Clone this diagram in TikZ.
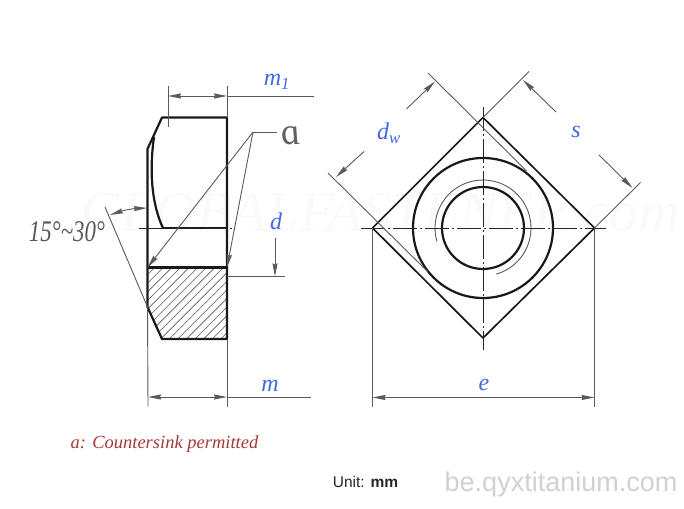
\documentclass[tikz,border=0pt]{standalone}
\usepackage{fontspec}
\setmainfont{Liberation Serif}
\setsansfont{Liberation Sans}
\usepackage{tikz}
\usetikzlibrary{arrows.meta}
\usetikzlibrary{calc}
\definecolor{dimblue}{HTML}{4169E1}
\definecolor{notered}{HTML}{A33A3A}
\definecolor{linegrey}{HTML}{5A5A5A}
\tikzstyle{outline} = [draw=black!90,line width=2.2pt,line join=round]
\tikzstyle{thinedge} = [draw=linegrey,line width=0.9pt]
\tikzstyle{tipedge} = [thinedge,-{Stealth[length=13pt,width=5pt,inset=1pt]}]
\tikzstyle{twotipedge} = [thinedge,{Stealth[length=13pt,width=5pt,inset=1pt]}-{Stealth[length=13pt,width=5pt,inset=1pt]}]
\tikzstyle{centreline} = [draw=black!85,line width=1pt,dash pattern=on 24pt off 3pt on 2pt off 3pt]
\tikzstyle{weight} = [font=\itshape\fontsize{24}{24}\selectfont,text=dimblue,inner sep=0pt]
\begin{document}
\begin{tikzpicture}[x=1pt,y=-1pt]
    \useasboundingbox[fill=white] (0,0) rectangle (684,508);

    % watermark first, everything else sits on it
    \node[font=\itshape\fontsize{58}{58}\selectfont,text=black!2,inner sep=0pt] (mark) at (380,213) {GLOBALFASTENER.com};

    % side view: points of the outline and of the dimension lines
    \foreach \pos/\name in {{(162,117.5)/A1}, {(227,117.5)/A2}, {(147.5,149)/A3}, {(147.5,307)/A4}, {(162,339)/A5}, {(227,339)/A6},
        {(147.5,267.5)/B1}, {(227,267.5)/B2}, {(163,228)/B3}, {(227,228)/B4}, {(154,137)/B5},
        {(139,228)/C1}, {(235,228)/C2},
        {(168,86)/D1}, {(168,127)/D2}, {(227,86)/D3}, {(168,96)/D4}, {(227,96)/D5}, {(314,96)/D6},
        {(148,406.5)/E1}, {(227,406.5)/E2}, {(148,397)/E3}, {(227,397)/E4}, {(311,397)/E5},
        {(227,276.5)/F1}, {(285,276.5)/F2}, {(275,238)/F3}, {(275,276.5)/F4},
        {(277,132)/G1}, {(253,132)/G2},
        {(105,207)/H1}, {(110,215)/H2}, {(147,208)/H3}}
        \node[coordinate] (\name) at \pos {};

    % hatching of the cut part
    \begin{scope}
    \clip (B1) -- (B2) -- (A6) -- (A5) -- (A4) -- cycle;
    \foreach \i in {0,...,21}
        \draw[thinedge,line width=0.6pt] (60+8.6*\i,345) -- (60+8.6*\i+85,260);
    \end{scope}

    % outline of the side view
    \draw[outline] (A3) -- (A1) -- (A2) -- (A6) -- (A5) -- (A4) -- cycle;
    \draw[outline] (B1) -- (B2);
    \draw[outline] (B3) -- (B4);
    \draw[outline] (B5) .. controls (149,172) and (152,205) .. (B3);
    \draw[centreline] (C1) -- (C2);

    % dimension lines of the side view
    \foreach \source/\dest in {D1/D2, D3/A2, D5/D6, A4/E1, A6/E2, E4/E5, F1/F2, G1/G2, H1/A4}
        \draw[thinedge] (\source) -- (\dest);
    \foreach \source/\dest in {D4/D5, E3/E4}
        \draw[twotipedge] (\source) -- (\dest);
    \foreach \source/\dest in {F3/F4, G2/B1, G2/B2}
        \draw[tipedge] (\source) -- (\dest);
    \draw[twotipedge] (H2) to[bend left=8] (H3);

    % top view
    \coordinate (cen) at (483,228);
    \foreach \pos/\name in {{(483,117.5)/P1}, {(594.5,228)/P2}, {(483,338)/P3}, {(372.5,228)/P4},
        {(361,228)/Q1}, {(606,228)/Q2}, {(483,107)/Q3}, {(483,350)/Q4},
        {(428,73)/R1}, {(526.5,171)/R2}, {(328,173)/R3}, {(428,272)/R4},
        {(529,71.5)/S1}, {(640.5,182.5)/S2},
        {(406.5,109)/T1}, {(435,81.5)/T2}, {(364,151.5)/T3}, {(336,177)/T4},
        {(556,112)/U1}, {(523,80)/U2}, {(599,155)/U3}, {(632.5,188)/U4},
        {(372.5,406.5)/V1}, {(594.5,406.5)/V2}, {(372.5,397.5)/V3}, {(594.5,397.5)/V4}}
        \node[coordinate] (\name) at \pos {};

    \draw[outline,line width=1.7pt] (P1) -- (P2) -- (P3) -- (P4) -- cycle;
    \draw[outline] (cen) circle [radius=70];
    \draw[outline] (cen) circle [radius=41];
    \draw[thinedge] ($(cen)+(-196:48)$) arc [start angle=-196,end angle=74,radius=48];
    \foreach \source/\dest in {Q1/Q2, Q3/Q4}
        \draw[centreline] (\source) -- (\dest);

    \foreach \source/\dest in {R1/R2, R3/R4, P1/S1, P2/S2, P4/V1, P2/V2}
        \draw[thinedge] (\source) -- (\dest);
    \foreach \source/\dest in {T1/T2, T3/T4, U1/U2, U3/U4}
        \draw[tipedge] (\source) -- (\dest);
    \draw[twotipedge] (V3) -- (V4);

    % labels
    \node[weight] (m1) at (277,82) {m\textsubscript{1}};
    \node[weight] (d) at (276,221) {d};
    \node[weight] (m) at (270,386) {m};
    \node[weight] (dw) at (389,133) {d\textsubscript{w}};
    \node[weight] (s) at (576,132) {s};
    \node[weight] (e) at (484,385) {e};
    \node[font=\itshape\fontsize{38}{38}\selectfont,text=black!62,inner sep=0pt,xslant=-0.25] (a) at (291,136) {a};
    \node[font=\itshape\fontsize{30}{30}\selectfont,text=black!65,inner sep=0pt] (angle) at (67,232) {\scalebox{0.76}[1]{15°\textasciitilde 30°}};
    \node[font=\itshape\fontsize{18.5}{18.5}\selectfont,text=notered,inner sep=0pt] (note) at (164.5,444) {a: Countersink permitted};
    \node[font=\sffamily\fontsize{15.5}{15.5}\selectfont,text=black!85,inner sep=0pt] (unit) at (365.5,482) {Unit: \textbf{mm}};
    \node[font=\sffamily\fontsize{27}{27}\selectfont,text=black!18,inner sep=0pt] (site) at (561,485) {be.qyxtitanium.com};
\end{tikzpicture}
\end{document}
